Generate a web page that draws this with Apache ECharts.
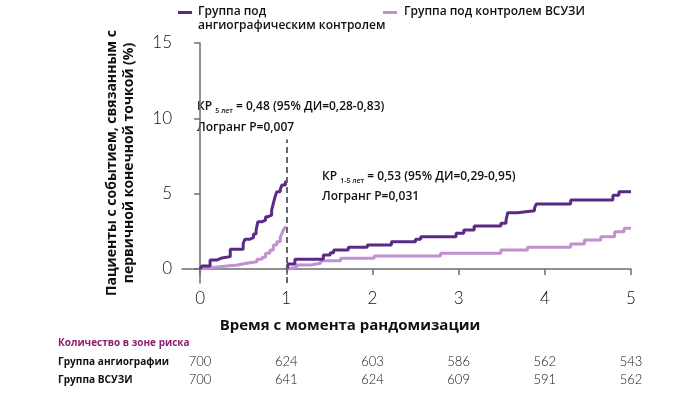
<!DOCTYPE html>
<html><head><meta charset="utf-8">
<script src="https://cdn.jsdelivr.net/npm/echarts@6/dist/echarts.min.js"></script>
<style>html,body{margin:0;padding:0;background:#fff}#c{width:700px;height:394px}</style>
</head><body><div id="c"></div>
<script>
const seriesNames = ['Группа под\nангиографическим контролем', 'Группа под контролем ВСУЗИ'];
const angioYear1 = [[0,0],[0.02,0.2],[0.116,0.6],[0.2,0.73],[0.25,0.82],[0.35,1.31],[0.5,1.7],[0.52,1.97],[0.58,2.1],[0.62,2.32],[0.65,2.59],[0.67,3.14],[0.72,3.25],[0.76,3.47],[0.79,3.58],[0.83,3.91],[0.85,4.36],[0.87,4.8],[0.89,5.13],[0.93,5.29],[0.95,5.57],[0.99,5.79],[1.0,5.79]];
const ivusYear1 = [[0,0],[0.02,0.1],[0.15,0.2],[0.31,0.27],[0.43,0.38],[0.54,0.48],[0.66,0.64],[0.72,0.78],[0.76,1.04],[0.81,1.26],[0.85,1.59],[0.89,1.81],[0.93,2.1],[0.95,2.36],[0.97,2.63],[0.99,2.77],[1.0,2.77]];
const angioYears1to5 = [[1.01,0],[1.02,0.33],[1.1,0.64],[1.43,0.93],[1.51,1.08],[1.55,1.26],[1.72,1.44],[1.94,1.59],[2.22,1.81],[2.5,1.97],[2.56,2.14],[2.97,2.37],[3.06,2.59],[3.18,2.85],[3.49,3.03],[3.55,3.25],[3.57,3.74],[3.68,3.87],[3.88,4.03],[3.9,4.31],[4.3,4.58],[4.79,4.9],[4.86,5.13],[5.0,5.13]];
const ivusYears1to5 = [[1.01,0],[1.02,0.12],[1.12,0.27],[1.28,0.38],[1.4,0.55],[1.63,0.71],[2.02,0.86],[2.79,1.04],[3.49,1.26],[3.8,1.44],[4.3,1.66],[4.46,1.92],[4.65,2.14],[4.81,2.47],[4.92,2.7],[5.0,2.7]];
const xTicks = [0,1,2,3,4,5];
const yTicks = [0,5,10,15];
const landmarkYear = 1;
const riskTimes = [0,1,2,3,4,5];
const riskAngio = [700,624,603,586,562,543];
const riskIvus = [700,641,624,609,591,562];
const riskRowLabels = ['Группа ангиографии','Группа ВСУЗИ'];
const riskTitle = 'Количество в зоне риска';

const DARK = '#5a2a85', LIGHT = '#c190cf';
const chart = echarts.init(document.getElementById('c'), null, {renderer:'canvas'});
const lineSeries = (name, data, color) => ({
  type:'line', name, data, step:'end', symbol:'none', silent:true,
  lineStyle:{color, width:3}, itemStyle:{color}, animation:false
});
const s3 = lineSeries(seriesNames[1], ivusYear1, LIGHT);
s3.markLine = {silent:true, symbol:'none', label:{show:false},
  lineStyle:{color:'#666', width:2, type:[6,4]},
  data:[[{coord:[landmarkYear,-0.93]},{coord:[landmarkYear,8.6]}]]};
chart.setOption({
  animation:false,
  grid:{left:182, right:69, top:43, bottom:111},
  xAxis:{type:'value', min:-0.21, max:5,
    axisLine:{lineStyle:{color:'#6e6e6e', width:1.5}},
    axisTick:{customValues:xTicks, length:6, lineStyle:{color:'#6e6e6e', width:1.5}},
    axisLabel:{customValues:xTicks, fontFamily:'Lato', fontWeight:300, fontSize:17, color:'#111', margin:7},
    splitLine:{show:false}},
  yAxis:{type:'value', min:-0.93, max:15,
    axisLine:{show:true, lineStyle:{color:'#6e6e6e', width:1.5}},
    axisTick:{show:true, customValues:yTicks, length:6, lineStyle:{color:'#6e6e6e', width:1.5}},
    axisLabel:{customValues:yTicks, fontFamily:'Lato', fontWeight:300, fontSize:17, color:'#111', margin:10},
    splitLine:{show:false},
    name:'Пациенты с событием, связанным с\nпервичной конечной точкой (%)',
    nameLocation:'middle', nameRotate:90, nameGap:44,
    nameTextStyle:{fontFamily:'Open Sans', fontWeight:'bold', fontSize:14, color:'#111', lineHeight:17}},
  series:[
    s3,
    lineSeries(seriesNames[1], ivusYears1to5, LIGHT),
    lineSeries(seriesNames[0], angioYear1, DARK),
    lineSeries(seriesNames[0], angioYears1to5, DARK)
  ]
});

const px = t => chart.convertToPixel({xAxisIndex:0}, t);
const graphics = [];
const txt = (x, y, text, style, extra) => graphics.push(Object.assign({type:'text', x, y, silent:true,
  style:Object.assign({text, fontFamily:'Open Sans', fill:'#111'}, style)}, extra || {}));
// legend
graphics.push({type:'rect', shape:{x:178, y:11, width:14, height:3}, style:{fill:DARK}, silent:true});
txt(198, 5, seriesNames[0], {fontSize:12, fontWeight:600, lineHeight:14, textVerticalAlign:'top'});
graphics.push({type:'rect', shape:{x:383, y:11, width:14, height:3}, style:{fill:LIGHT}, silent:true});
txt(404, 5, seriesNames[1], {fontSize:12, fontWeight:600, lineHeight:14, textVerticalAlign:'top'});
// annotations
const rich = {b:{fontFamily:'Open Sans', fontWeight:600, fontSize:12, fill:'#111'},
  s:{fontFamily:'Open Sans', fontWeight:600, fontSize:7, fill:'#111', padding:[7,0,0,0]}};
graphics.push({type:'text', x:197, y:100, silent:true, style:{rich, text:'{b|КР }{s|5 лет}{b| = 0,48 (95% ДИ=0,28-0,83)}'}});
txt(197, 122, 'Логранг P=0,007', {fontSize:12, fontWeight:600});
graphics.push({type:'text', x:322, y:170, silent:true, style:{rich, text:'{b|КР }{s|1-5 лет}{b| = 0,53 (95% ДИ=0,29-0,95)}'}});
txt(322, 191, 'Логранг P=0,031', {fontSize:12, fontWeight:600});
// x title
txt(350, 326, 'Время с момента рандомизации', {fontSize:15, fontWeight:'bold', align:'center', verticalAlign:'middle'});
// risk table
txt(58, 343, riskTitle, {fontSize:11, fontWeight:'bold', fill:'#8a1f6f', verticalAlign:'middle'}, {scaleX:0.91});
txt(58, 362, riskRowLabels[0], {fontSize:11, fontWeight:'bold', verticalAlign:'middle'}, {scaleX:0.92});
txt(58, 380, riskRowLabels[1], {fontSize:11, fontWeight:'bold', verticalAlign:'middle'}, {scaleX:0.92});
riskTimes.forEach((t,i) => {
  const x = px(t);
  txt(x, 362, String(riskAngio[i]), {fontSize:13, fontFamily:'Lato', fontWeight:300, align:'center', verticalAlign:'middle', fill:'#111'});
  txt(x, 380, String(riskIvus[i]), {fontSize:13, fontFamily:'Lato', fontWeight:300, align:'center', verticalAlign:'middle', fill:'#111'});
});
chart.setOption({graphic:graphics});
</script></body></html>
